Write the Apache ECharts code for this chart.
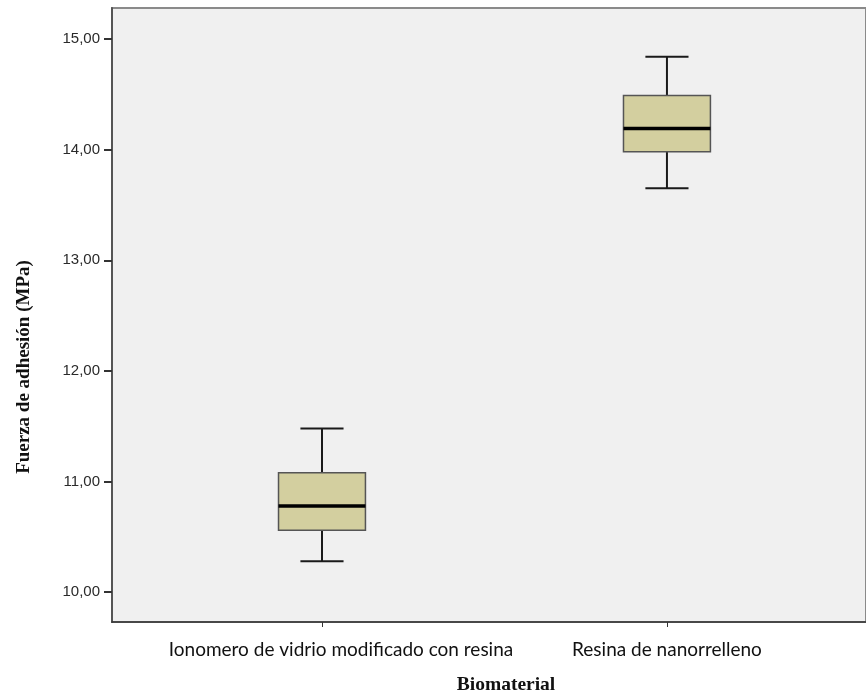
<!DOCTYPE html>
<html><head><meta charset="utf-8">
<script src="https://cdn.jsdelivr.net/npm/echarts@6/dist/echarts.min.js"></script>
<style>html,body{margin:0;padding:0;background:#fff}#c{width:866px;height:698px}</style>
</head><body><div id="c"></div>
<script>
const categories = ['Ionomero de vidrio modificado con resina', 'Resina de nanorrelleno'];
const whiskerLow = [10.28, 13.65];
const q1 = [10.56, 13.98];
const median = [10.78, 14.19];
const q3 = [11.08, 14.49];
const whiskerHigh = [11.48, 14.84];
const yTicks = [10, 11, 12, 13, 14, 15];
const yTitle = 'Fuerza de adhesión (MPa)';
const xTitle = 'Biomaterial';

const boxData = categories.map((c, i) => [i, whiskerLow[i], q1[i], median[i], q3[i], whiskerHigh[i]]);

const chart = echarts.init(document.getElementById('c'), null, {renderer: 'canvas'});
chart.setOption({
  animation: false,
  backgroundColor: '#ffffff',
  grid: {left: 112, right: 0, top: 8, bottom: 76, show: true, backgroundColor: '#f0f0f0', borderColor: '#8a8a8a', borderWidth: 2},
  xAxis: {
    type: 'value', min: -0.6087, max: 1.577,
    splitLine: {show: false},
    axisLine: {show: true, onZero: false, lineStyle: {color: '#333', width: 1.5}},
    axisTick: {show: true, customValues: categories.map((c, i) => i), length: 5, lineStyle: {color: '#333', width: 1}},
    axisLabel: {
      show: true, customValues: categories.map((c, i) => i), margin: 18,
      fontFamily: 'Lato', fontSize: 19, color: '#111',
      formatter: v => {
        const i = Math.round(v);
        return i === 0 ? '{a|' + categories[i] + '}' : '{b|' + categories[i] + '}';
      },
      rich: {a: {fontFamily: 'Lato', fontSize: 19, color: '#111', padding: [0, 0, 0, 38]}, b: {fontFamily: 'Lato', fontSize: 19, color: '#111'}}
    }
  },
  yAxis: {
    type: 'value', min: 9.731, max: 15.28,
    splitLine: {show: false},
    axisLine: {show: true, onZero: false, lineStyle: {color: '#555', width: 2}},
    axisTick: {show: true, customValues: yTicks, length: 8, lineStyle: {color: '#333', width: 2}},
    axisLabel: {
      show: true, customValues: yTicks, margin: 12,
      fontFamily: 'Liberation Sans', fontSize: 15, color: '#2a2a2a',
      formatter: v => v.toFixed(2).replace('.', ',')
    }
  },
  graphic: [
    {type: 'text', x: 24, y: 367, rotation: Math.PI / 2, style: {text: yTitle, font: 'bold 19px "Liberation Serif"', fill: '#111', textAlign: 'center', textVerticalAlign: 'middle'}},
    {type: 'text', x: 506, y: 685, style: {text: xTitle, font: 'bold 19.5px "Liberation Serif"', fill: '#111', textAlign: 'center', textVerticalAlign: 'middle'}}
  ],
  series: [{
    type: 'custom',
    data: boxData,
    renderItem: function (params, api) {
      const x = api.value(0);
      const pLo = api.coord([x, api.value(1)]);
      const pQ1 = api.coord([x, api.value(2)]);
      const pMed = api.coord([x, api.value(3)]);
      const pQ3 = api.coord([x, api.value(4)]);
      const pHi = api.coord([x, api.value(5)]);
      const boxW = api.size([0.252, 0])[0];
      const capW = api.size([0.125, 0])[0];
      const cx = pMed[0];
      const wStyle = {stroke: '#1a1a1a', lineWidth: 2};
      return {
        type: 'group',
        children: [
          {type: 'line', shape: {x1: cx, y1: pQ3[1], x2: cx, y2: pHi[1]}, style: wStyle},
          {type: 'line', shape: {x1: cx, y1: pQ1[1], x2: cx, y2: pLo[1]}, style: wStyle},
          {type: 'line', shape: {x1: cx - capW / 2, y1: pHi[1], x2: cx + capW / 2, y2: pHi[1]}, style: wStyle},
          {type: 'line', shape: {x1: cx - capW / 2, y1: pLo[1], x2: cx + capW / 2, y2: pLo[1]}, style: wStyle},
          {type: 'rect', shape: {x: cx - boxW / 2, y: pQ3[1], width: boxW, height: pQ1[1] - pQ3[1]}, style: {fill: '#d3cf9f', stroke: '#555', lineWidth: 1.5}},
          {type: 'line', shape: {x1: cx - boxW / 2, y1: pMed[1], x2: cx + boxW / 2, y2: pMed[1]}, style: {stroke: '#000', lineWidth: 3.5}}
        ]
      };
    }
  }]
});
</script></body></html>
